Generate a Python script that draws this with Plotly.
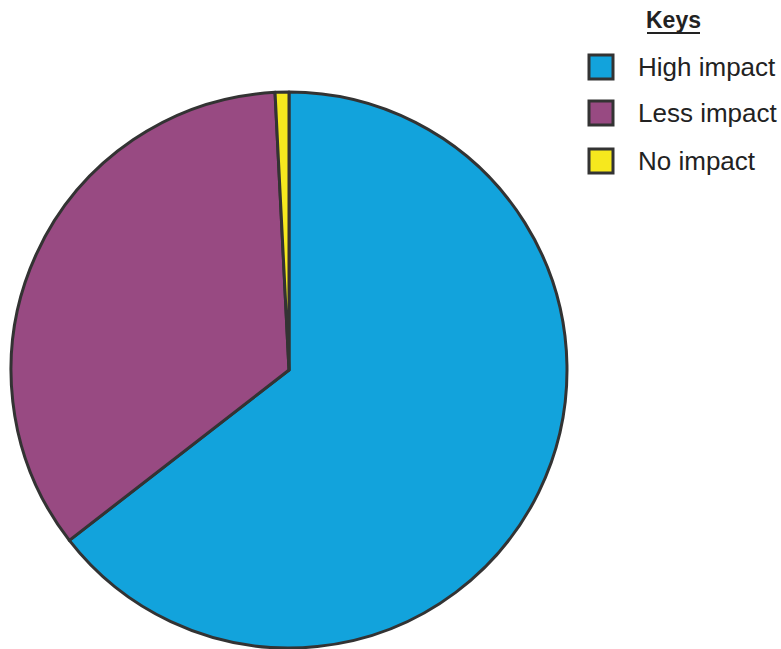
import plotly.graph_objects as go

labels = ["High impact", "Less impact", "No impact"]
values = [64.5, 34.7, 0.8]
colors = ["#12a3dc", "#984a82", "#f6e81e"]
legend_title = "Keys"

W, H = 781, 649

def px(x):
    return x / W

def py(y):
    return (H - y) / H

fig = go.Figure()
fig.add_trace(go.Pie(
    labels=labels,
    values=values,
    sort=False,
    direction="clockwise",
    rotation=0,
    textinfo="none",
    hoverinfo="label+percent",
    marker=dict(colors=colors, line=dict(color="#333333", width=3)),
    domain=dict(x=[px(9), px(569)], y=[py(648), py(92)]),
    showlegend=False,
))

shapes = []
annotations = []
row_y = [67, 113, 161]
for lab, col, yc in zip(labels, colors, row_y):
    shapes.append(dict(
        type="rect", xref="paper", yref="paper",
        x0=px(589), x1=px(613), y0=py(yc + 12), y1=py(yc - 12),
        fillcolor=col, line=dict(color="#333333", width=3),
    ))
    annotations.append(dict(
        x=px(636), y=py(yc), xref="paper", yref="paper",
        text=lab, showarrow=False, xanchor="left", yanchor="middle",
        font=dict(family="Liberation Sans, Arial, sans-serif", size=26, color="#222222"),
    ))

annotations.append(dict(
    x=px(673), y=py(20), xref="paper", yref="paper",
    text="<b>" + legend_title + "</b>", showarrow=False,
    xanchor="center", yanchor="middle",
    font=dict(family="Liberation Sans, Arial, sans-serif", size=23, color="#222222"),
))
shapes.append(dict(
    type="line", xref="paper", yref="paper",
    x0=px(647), x1=px(700), y0=py(33), y1=py(33),
    line=dict(color="#222222", width=2),
))

fig.update_layout(
    width=W, height=H,
    margin=dict(l=0, r=0, t=0, b=0),
    paper_bgcolor="white",
    plot_bgcolor="white",
    shapes=shapes,
    annotations=annotations,
)

fig.write_html("out.html")
